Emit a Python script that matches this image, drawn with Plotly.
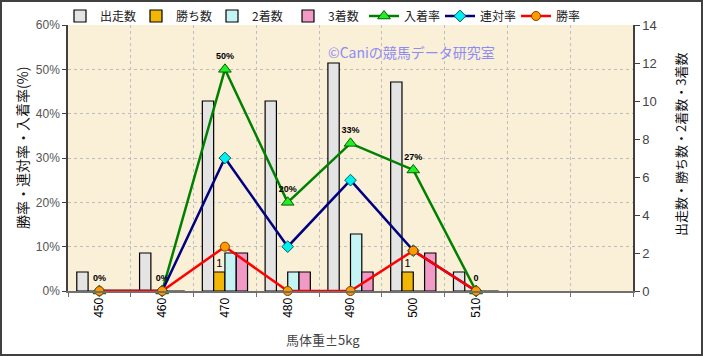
import plotly.graph_objects as go

# ---- data ----
weights = ["450", "460", "470", "480", "490", "500", "510"]
n_slots = 9  # two empty category slots at the right
runs = [1, 2, 10, 10, 12, 11, 1]
wins = [0, 0, 1, 0, 0, 1, 0]
seconds = [0, 0, 2, 1, 3, 0, 0]
thirds = [0, 0, 2, 1, 1, 2, 0]
win_rate = [0, 0, 10.0, 0, 0, 9.1, 0]
rentai_rate = [0, 0, 30.0, 10.0, 25.0, 9.1, 0]
place_rate = [0, 0, 50.0, 20.0, 33.3, 27.3, 0]
place_labels = ["0%", "0%", "50%", "20%", "33%", "27%", "0"]
win_labels = ["", "", "1", "", "", "1", ""]

x = list(range(len(weights)))
JP = "Noto Sans CJK JP"

fig = go.Figure()

bar_specs = [
    ("出走数", runs, "#e4e4e4", None),
    ("勝ち数", wins, "#f2b705", win_labels),
    ("2着数", seconds, "#c4f4f4", None),
    ("3着数", thirds, "#f29ac6", None),
]
for name, vals, col, labels in bar_specs:
    fig.add_trace(go.Bar(
        x=x, y=vals, name=name, yaxis="y",
        marker=dict(color=col, line=dict(color="#000000", width=1.2)),
        text=labels, textposition="outside" if labels else None,
        textfont=dict(size=11, color="#000000", family="Liberation Sans"),
        cliponaxis=False,
    ))

fig.add_trace(go.Scatter(
    x=x, y=place_rate, name="入着率", yaxis="y2",
    mode="lines+markers+text",
    line=dict(color="#008000", width=2.5),
    marker=dict(symbol="triangle-up", size=11, color="#22ee22",
                line=dict(color="#006000", width=1)),
    text=place_labels, textposition="top center",
    textfont=dict(size=9, color="#000000", family="Liberation Sans", weight="bold"),
    cliponaxis=False,
))
fig.add_trace(go.Scatter(
    x=x, y=rentai_rate, name="連対率", yaxis="y2",
    mode="lines+markers",
    line=dict(color="#000080", width=2.5),
    marker=dict(symbol="diamond", size=9, color="#00f0f0",
                line=dict(color="#006060", width=1)),
    cliponaxis=False,
))
fig.add_trace(go.Scatter(
    x=x, y=win_rate, name="勝率", yaxis="y2",
    mode="lines+markers",
    line=dict(color="#ff0000", width=2.5),
    marker=dict(symbol="circle", size=9, color="#ff9900",
                line=dict(color="#804000", width=1)),
    cliponaxis=False,
))

L, R, T, B = 68, 70, 25, 65
W, H = 703, 356
pw, ph = W - L - R, H - T - B

def px_x(p):
    return (p - L) / pw

def px_y(p):
    return (H - B - p) / ph

def ann(text, px, py, size, color, angle=0):
    return dict(text=text, xref="paper", yref="paper", x=px_x(px), y=px_y(py),
                xanchor="center", yanchor="middle", textangle=angle,
                showarrow=False, font=dict(size=size, family=JP, color=color))

fig.update_layout(
    width=W, height=H,
    margin=dict(l=L, r=R, t=T, b=B, autoexpand=False),
    paper_bgcolor="#ffffff",
    plot_bgcolor="#faefd7",
    font=dict(family=JP, size=12, color="#333333"),
    barmode="group", bargap=0.28, bargroupgap=0.0,
    showlegend=True,
    legend=dict(orientation="h", x=px_x(326), xanchor="center",
                y=px_y(16), yanchor="middle",
                font=dict(size=12, family=JP, color="#222222"),
                bgcolor="rgba(0,0,0,0)", itemwidth=30, tracegroupgap=0,
                entrywidth=31,
                traceorder="normal"),
    xaxis=dict(
        range=[-0.5, n_slots - 0.5], automargin=False,
        tickvals=x, ticktext=weights, tickangle=-90,
        tickfont=dict(size=12, family="Liberation Sans", color="#000000"),
        showgrid=False, zeroline=False,
        showline=True, linecolor="#707070", linewidth=2,
        ticks="",
        minor=dict(tick0=0.5, dtick=1, showgrid=True, griddash="dot",
                   gridcolor="#bdbdbd", gridwidth=1, ticks="outside",
                   ticklen=4, tickcolor="#707070"),
    ),
    yaxis=dict(
        side="right", range=[0, 14], dtick=2, automargin=False,
        showgrid=False, zeroline=False,
        showline=True, linecolor="#404040", linewidth=1.5,
        ticks="outside", ticklen=5, tickcolor="#404040",
        tickfont=dict(size=13, family="Liberation Sans", color="#444444"),
    ),
    yaxis2=dict(
        overlaying="y", side="left", range=[0, 60], dtick=10, automargin=False,
        ticksuffix="%",
        showgrid=True, griddash="dot", gridcolor="#bdbdbd", gridwidth=1,
        zeroline=False,
        showline=True, linecolor="#404040", linewidth=1.5,
        ticks="outside", ticklen=4, tickcolor="#404040",
        tickfont=dict(size=12, family="Liberation Sans", color="#555555"),
    ),
    annotations=[
        ann("©Caniの競馬データ研究室", 411, 52, 14, "#8c8cf5"),
        ann("勝率・連対率・入着率(%)", 22, 148, 14, "#111111", -90),
        ann("出走数・勝ち数・2着数・3着数", 680, 145, 13, "#111111", -90),
        ann("馬体重±5kg", 323, 339, 13, "#444444"),
    ],
    shapes=[
        dict(type="rect", xref="paper", yref="paper",
             x0=px_x(1), x1=px_x(W - 1), y0=px_y(H - 1), y1=px_y(1),
             line=dict(color="#404040", width=2), layer="above"),
    ],
)

fig.write_html("out.html", config={"displayModeBar": False},
               post_script="document.body.style.margin='0px';")
